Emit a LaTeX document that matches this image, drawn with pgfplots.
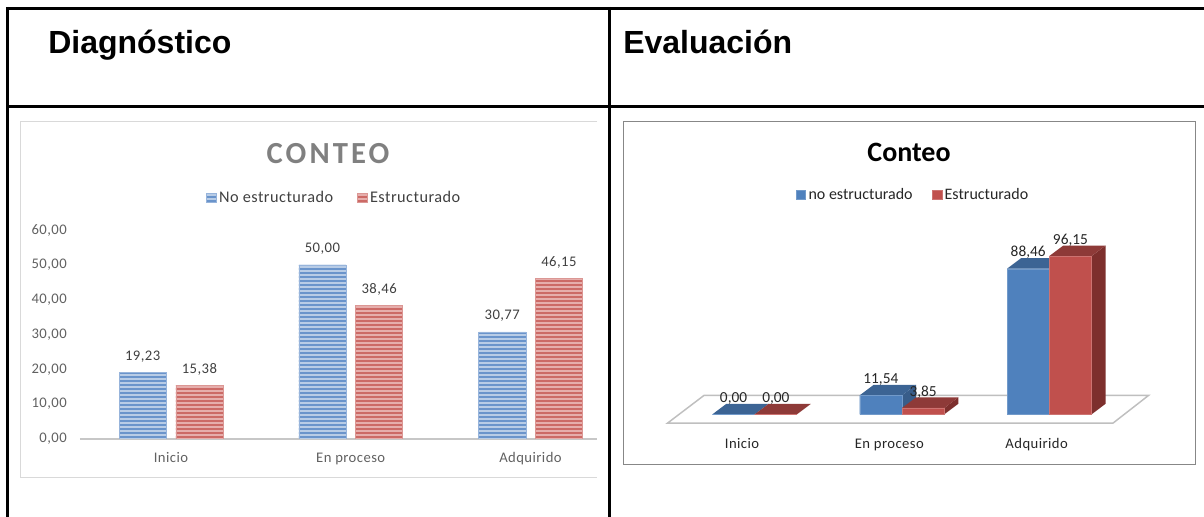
\documentclass[border=0pt]{standalone}
\usepackage{fontspec}
\setmainfont{Carlito}
\newfontfamily\arialb{Liberation Sans}
\newfontfamily\spaced[LetterSpace=3]{Carlito}
\newfontfamily\spacedtitle[LetterSpace=10]{Carlito}
\usepackage{pgfplots}
\pgfplotsset{compat=1.18}
\usetikzlibrary{patterns.meta}

\definecolor{stripeB}{HTML}{6A94CB}
\definecolor{paleB}{HTML}{B8CCE6}
\definecolor{stripeR}{HTML}{CC6A66}
\definecolor{paleR}{HTML}{E6AEAC}
\definecolor{blue3}{HTML}{4F81BD}
\definecolor{red3}{HTML}{C0504D}
\definecolor{blueTop}{HTML}{3C6494}
\definecolor{blueSide}{HTML}{385D8A}
\definecolor{redTop}{HTML}{8E3A38}
\definecolor{redSide}{HTML}{7D2F2D}

\pgfplotsset{
  comafmt/.style={/pgf/number format/.cd,use comma,fixed,fixed zerofill,precision=2,assume math mode=true},
  sq/.style={legend image code/.code={\fill[##1] (0pt,-3.3pt) rectangle (7.2pt,3.3pt);}},
  every axis title shift=0pt,
}

\begin{document}
\begin{tikzpicture}
\useasboundingbox (0,0) rectangle (903pt,387.75pt);

% table rules and chart frames, in pixels of the reference
\begin{scope}[x=0.75pt,y=-0.75pt,yshift=387.75pt]
\draw[line width=2.25pt] (6,8.5) -- (1204,8.5);
\draw[line width=2.25pt] (6,106.5) -- (1204,106.5);
\draw[line width=2.25pt] (7.5,7) -- (7.5,517);
\draw[line width=2.25pt] (609.5,7) -- (609.5,517);
\draw[color=black!15,line width=0.75pt] (597,122) -- (20,122) -- (20,478) -- (597,478);
\draw[color=black!47,line width=0.75pt] (623,122) rectangle (1195,465);
\node[anchor=base west,inner sep=0pt,font=\arialb\bfseries\fontsize{24}{28}\selectfont] at (48,53.5) {Diagnóstico};
\node[anchor=base west,inner sep=0pt,font=\arialb\bfseries\fontsize{24}{28}\selectfont] at (623,53.5) {Evaluación};
\end{scope}

% Diagnostico
\begin{axis}[
  at={(60pt,58.5pt)}, anchor=south west,
  scale only axis, width=387.75pt, height=156.75pt,
  xmin=-0.506, xmax=2.37, ymin=0, ymax=60,
  comafmt,
  axis x line=bottom, axis y line=left,
  x axis line style={-,color=black!22,line width=1.5pt},
  y axis line style={draw=none},
  major tick length=0pt,
  xtick={0,1,2}, xticklabels={Inicio,En proceso,Adquirido},
  ytick={0,10,20,30,40,50,60},
  tick label style={color=black!62,font=\spaced\fontsize{11}{13}\selectfont},
  yticklabel style={inner sep=0pt,xshift=-9.75pt},
  xticklabel style={inner sep=0pt,anchor=base,yshift=-17.5pt},
  title={\spacedtitle\bfseries CONTEO},
  title style={at={(0.4797,1.368)},anchor=center,color=black!50,font=\fontsize{23}{26}\selectfont},
  legend style={at={(0.2437,1.153)},anchor=west,draw=none,fill=none,inner sep=0pt,
    font=\spaced\fontsize{12.2}{13}\selectfont,text=black!75,legend columns=2,
    /tikz/every even column/.append style={column sep=16pt}},
  every node near coord/.style={inner sep=0pt,anchor=base,yshift=9pt,color=black!75,font=\spaced\fontsize{11}{13}\selectfont},
]
\addplot[ybar,bar width=0.2615,bar shift=-0.157,sq,nodes near coords,draw=stripeB!70!white,line width=0.4pt,fill=paleB,
  every node near coord/.append style={xshift=-21.2pt},
  postaction={pattern={Lines[angle=0,distance=3pt,line width=1.2pt]},pattern color=stripeB}]
  coordinates {(0,19.23) (1,50.00) (2,30.77)};
\addlegendentry{No estructurado}
\addplot[ybar,bar width=0.2615,bar shift=0.158,sq,nodes near coords,draw=stripeR!70!white,line width=0.4pt,fill=paleR,
  every node near coord/.append style={xshift=21.3pt},
  postaction={pattern={Lines[angle=0,distance=3pt,line width=1.2pt]},pattern color=stripeR}]
  coordinates {(0,15.38) (1,38.46) (2,46.15)};
\addlegendentry{Estructurado}
\end{axis}

% Evaluacion, bars with a drawn depth
\begin{axis}[
  at={(499.725pt,69.6pt)}, anchor=south west,
  scale only axis, width=364.6pt, height=143.2pt,
  xmin=-0.6, xmax=2.7, ymin=-6, ymax=110,
  clip=false,
  comafmt,
  axis line style={draw=none},
  major tick length=0pt,
  ytick=\empty,
  xtick={0,1,2}, xticklabels={Inicio,En proceso,Adquirido},
  xticklabel style={inner sep=0pt,anchor=base,yshift=-18pt,xshift=-9.5pt,color=black!85,font=\spaced\fontsize{11}{13}\selectfont},
  title={\bfseries Conteo},
  title style={at={(0.4993,1.426)},anchor=center,color=black,font=\fontsize{21}{24}\selectfont},
  legend style={at={(0.266,1.2006)},anchor=west,draw=none,fill=none,inner sep=0pt,
    font=\fontsize{12}{13}\selectfont,text=black!85,legend columns=2,
    /tikz/every even column/.append style={column sep=12.5pt}},
  every node near coord/.style={inner sep=0pt,anchor=base,yshift=8.8pt,color=black!85,font=\fontsize{11.5}{13}\selectfont},
]
% floor
\addplot[fill=white,draw=black!25,line width=1.1pt,forget plot] coordinates {(-0.591,-5.3) (2.433,-5.3) (2.674,11.5) (-0.344,11.5)} -- cycle;
% blue tops and sides
\addplot[fill=blueTop,draw=none,forget plot] coordinates {(-0.287,0) (0,0) (0.095,6.4) (-0.192,6.4)} -- cycle;
\addplot[fill=blueSide,draw=none,forget plot] coordinates {(1,0) (1,11.54) (1.095,17.94) (1.095,6.4)} -- cycle;
\addplot[fill=blueTop,draw=none,forget plot] coordinates {(0.713,11.54) (1,11.54) (1.095,17.94) (0.808,17.94)} -- cycle;
\addplot[fill=blueTop,draw=none,forget plot] coordinates {(1.713,88.46) (2,88.46) (2.095,94.86) (1.808,94.86)} -- cycle;
\addplot[ybar,bar width=0.287,bar shift=-0.1435,sq,nodes near coords,draw=blue3!80!white,line width=0.3pt,fill=blue3,
  every node near coord/.append style={xshift=-15.85pt}]
  coordinates {(0,0.00) (1,11.54) (2,88.46)};
\addlegendentry{no estructurado}
% red tops and sides
\addplot[fill=redTop,draw=none,forget plot] coordinates {(0,0) (0.287,0) (0.382,6.4) (0.095,6.4)} -- cycle;
\addplot[fill=redSide,draw=none,forget plot] coordinates {(1.287,0) (1.287,3.85) (1.382,10.25) (1.382,6.4)} -- cycle;
\addplot[fill=redTop,draw=none,forget plot] coordinates {(1,3.85) (1.287,3.85) (1.382,10.25) (1.095,10.25)} -- cycle;
\addplot[fill=redSide,draw=none,forget plot] coordinates {(2.287,0) (2.287,96.15) (2.382,102.55) (2.382,6.4)} -- cycle;
\addplot[fill=redTop,draw=none,forget plot] coordinates {(2,96.15) (2.287,96.15) (2.382,102.55) (2.095,102.55)} -- cycle;
\addplot[ybar,bar width=0.287,bar shift=0.1435,sq,nodes near coords,draw=red3!80!white,line width=0.3pt,fill=red3,
  every node near coord/.append style={xshift=15.85pt}]
  coordinates {(0,0.00) (1,3.85) (2,96.15)};
\addlegendentry{Estructurado}
\end{axis}
\end{tikzpicture}
\end{document}
